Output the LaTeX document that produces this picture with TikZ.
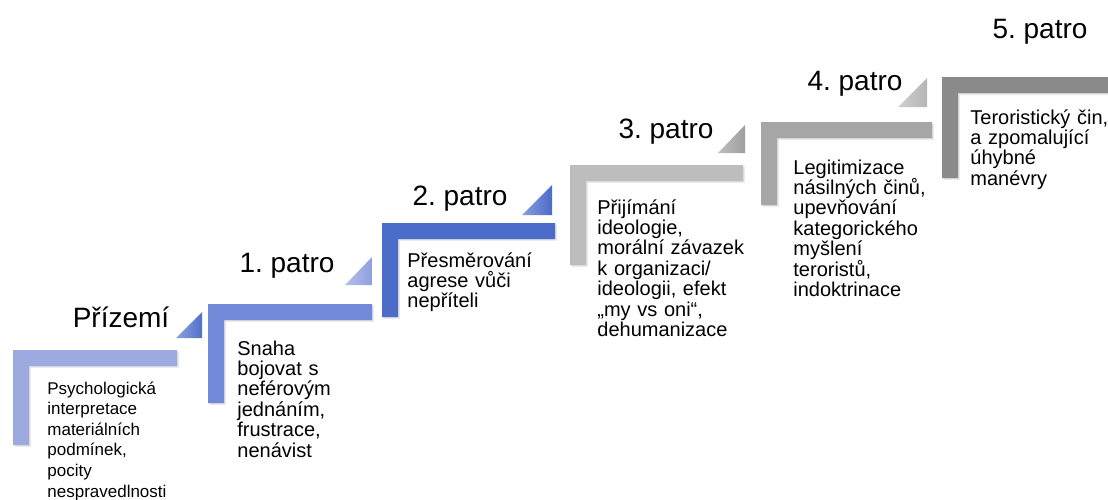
\documentclass[tikz,border=0pt]{standalone}
\usepackage{fontspec}
\setmainfont{Liberation Sans}
\usepackage[x11names, svgnames]{xcolor}
\usepackage{tikz}
\usetikzlibrary{shadows}

\definecolor{floorA}{HTML}{9DAAE0}
\definecolor{floorB}{HTML}{7389D9}
\definecolor{floorC}{HTML}{4B6CC8}
\definecolor{floorD}{HTML}{BDBDBD}
\definecolor{floorE}{HTML}{A6A6A6}
\definecolor{floorF}{HTML}{8A8A8A}
\definecolor{wedgeA}{HTML}{4F71C8}
\definecolor{wedgeB}{HTML}{8E9FDE}
\definecolor{wedgeC}{HTML}{4A6BC9}
\definecolor{wedgeD}{HTML}{9E9E9E}
\definecolor{wedgeE}{HTML}{B5B5B5}

\tikzset{
	bar/.style={fill=#1, draw=none, drop shadow={opacity=0.25, shadow xshift=0.8pt, shadow yshift=-0.8pt}},
	wedge/.style={left color=#1!65!white, right color=#1, draw=none},
	floorlabel/.style={anchor=base, inner sep=0pt, font=\fontsize{14}{16}\selectfont},
	floortext/.style={anchor=base west, inner sep=0pt, align=left, text width=100pt, font=\fontsize{10}{10.2}\selectfont}
}

\begin{document}
\frenchspacing
\begin{tikzpicture}[x=0.5pt, y=-0.5pt]
				\useasboundingbox (0,0) rectangle (1108,499);
				% the L-shaped steps
				\fill[bar=floorA] (13,350) -- (177,350) -- (177,366) -- (29,366) -- (29,445) -- (13,445) -- cycle;
				\fill[bar=floorB] (208,304) -- (372,304) -- (372,320) -- (224,320) -- (224,403) -- (208,403) -- cycle;
				\fill[bar=floorC] (382,223) -- (555,223) -- (555,239) -- (398,239) -- (398,317) -- (382,317) -- cycle;
				\fill[bar=floorD] (570,165) -- (743,165) -- (743,181) -- (586,181) -- (586,265) -- (570,265) -- cycle;
				\fill[bar=floorE] (761,122) -- (932,122) -- (932,138) -- (777,138) -- (777,205) -- (761,205) -- cycle;
				\fill[bar=floorF] (942,77) -- (1108,77) -- (1108,93) -- (958,93) -- (958,178) -- (942,178) -- cycle;
				% small triangles
				\shade[wedge=wedgeA] (176,338) -- (202,338) -- (202,312) -- cycle;
				\shade[wedge=wedgeB] (345,285) -- (372,285) -- (372,257) -- cycle;
				\shade[wedge=wedgeC] (522,215) -- (552,215) -- (552,185) -- cycle;
				\shade[wedge=wedgeD] (718,153) -- (745,153) -- (745,125) -- cycle;
				\shade[wedge=wedgeE] (898,107) -- (927,107) -- (927,78) -- cycle;
				% floor names
				\node[floorlabel] (lab0) at (121,327) {Přízemí};
				\node[floorlabel] (lab1) at (287,272) {1. patro};
				\node[floorlabel] (lab2) at (460,205) {2. patro};
				\node[floorlabel] (lab3) at (666,138) {3. patro};
				\node[floorlabel] (lab4) at (855,90) {4. patro};
				\node[floorlabel] (lab5) at (1040,38) {5. patro};
				% texts
				\node[floortext, font=\fontsize{8.5}{10.3}\selectfont] (txt0) at (47,394)
					{Psychologická\\interpretace\\materiálních\\podmínek,\\pocity\\nespravedlnosti};
				\node[floortext] (txt1) at (237,355) {Snaha\\bojovat s\\neférovým\\jednáním,\\frustrace,\\nenávist};
				\node[floortext] (txt2) at (407,267) {Přesměrování\\agrese vůči\\nepříteli};
				\node[floortext] (txt3) at (597,214)
					{Přijímání\\ideologie,\\morální závazek\\k organizaci/\\ideologii, efekt\\„my vs oni“,\\dehumanizace};
				\node[floortext] (txt4) at (793,174)
					{Legitimizace\\násilných činů,\\upevňování\\kategorického\\myšlení\\teroristů,\\indoktrinace};
				\node[floortext] (txt5) at (970,124) {Teroristický čin,\\a zpomalující\\úhybné\\manévry};
			\end{tikzpicture}
\end{document}
